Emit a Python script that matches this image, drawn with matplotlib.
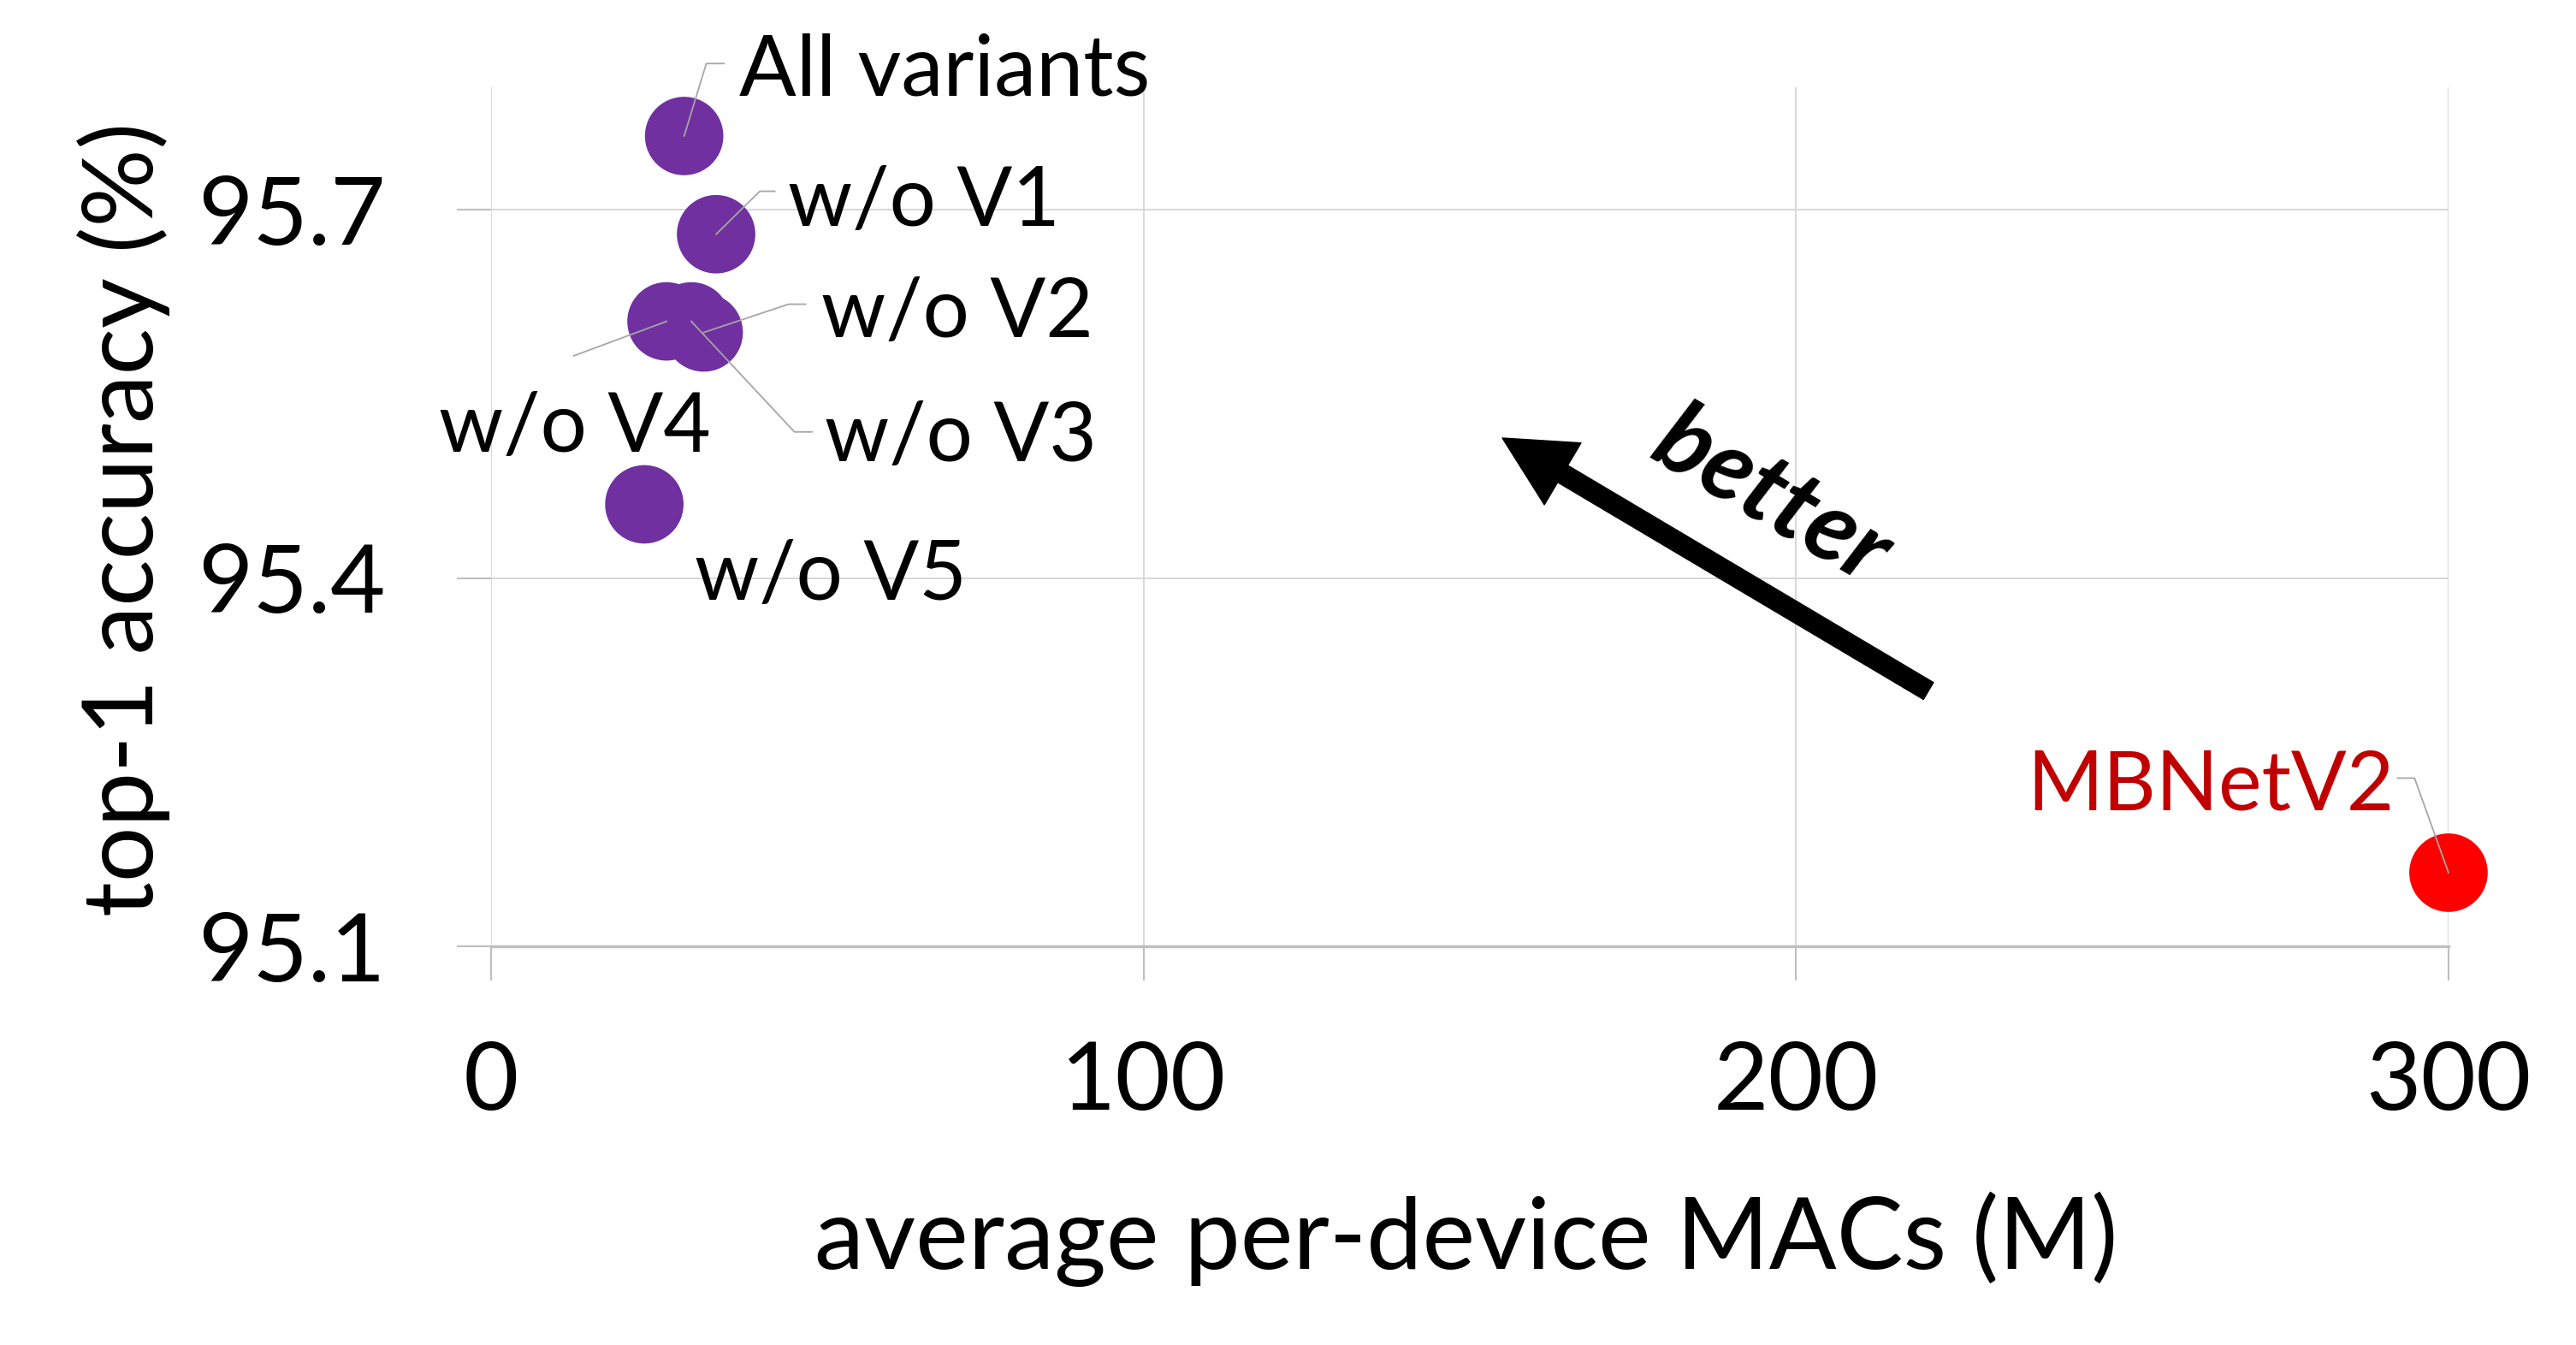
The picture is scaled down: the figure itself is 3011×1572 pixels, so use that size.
import matplotlib
matplotlib.use("Agg")
import matplotlib.pyplot as plt
from matplotlib.patches import FancyArrowPatch, ArrowStyle

plt.rcParams['font.family'] = ['Lato', 'DejaVu Sans']

# data
names = ['All variants', 'w/o V1', 'w/o V2', 'w/o V3', 'w/o V4', 'w/o V5']
macs = [29.6, 34.5, 32.6, 30.7, 26.9, 23.5]
acc = [95.76, 95.68, 95.600, 95.609, 95.609, 95.46]

base_name = 'MBNetV2'
base_macs = 300
base_acc = 95.16

xticks = [0, 100, 200, 300]
yticks = [95.1, 95.4, 95.7]

# label placement (text left x, baseline y) and leader elbows, in data units
label_pos = {
    'All variants': (38.0, 95.793),
    'w/o V1': (45.5, 95.687),
    'w/o V2': (50.6, 95.596),
    'w/o V3': (51.1, 95.495),
    'w/o V4': (-8.0, 95.503),
    'w/o V5': (31.2, 95.382),
}
leaders = {
    'All variants': [(33.0, 95.819), (35.7, 95.819)],
    'w/o V1': [(41.2, 95.715), (43.5, 95.715)],
    'w/o V2': [(45.6, 95.623), (48.2, 95.623)],
    'w/o V3': [(46.5, 95.519), (49.2, 95.519)],
    'w/o V4': [(12.7, 95.581)],
}

purple = '#7030a0'
grid_c = '#d9d9d9'
lead_c = '#a6a6a6'

fig = plt.figure(figsize=(30.11, 15.72), dpi=100)
ax = fig.add_axes([0.1906, 0.2964, 0.7599, 0.639])
ax.set_xlim(0, 300)
ax.set_ylim(95.1, 95.8)

for s in ['top', 'right', 'left']:
    ax.spines[s].set_visible(False)
ax.spines['bottom'].set_color('#bfbfbf')
ax.spines['bottom'].set_linewidth(2.4)
ax.spines['bottom'].set_zorder(1)

ax.set_xticks(xticks)
ax.set_yticks(yticks)
ax.set_xticklabels([str(t) for t in xticks])
ax.set_yticklabels(['%.1f' % t for t in yticks])
ax.tick_params(axis='both', direction='out', length=29, width=1.5, color='#bfbfbf',
               labelsize=80)
ax.tick_params(axis='x', pad=50)
ax.tick_params(axis='y', pad=60)
ax.grid(True, color=grid_c, lw=1.5, zorder=0)
ax.set_axisbelow(True)

ax.scatter(macs, acc, s=4356, color=purple, edgecolors='none', zorder=3,
           clip_on=False)
ax.scatter([base_macs], [base_acc], s=4356, color='#ff0000', edgecolors='none',
           zorder=3, clip_on=False)

for n, x, y in zip(names, macs, acc):
    lx, ly = label_pos[n]
    fs = 71 if n == 'All variants' else 69
    ax.text(lx, ly, n, fontsize=fs, ha='left', va='baseline', zorder=5)
    if n in leaders:
        pts = [(x, y)] + leaders[n]
        ax.plot([p[0] for p in pts], [p[1] for p in pts], color=lead_c, lw=1.3,
                zorder=4, clip_on=False)

ax.text(291.7, 95.211, base_name, fontsize=69, color='#c00000', ha='right',
        va='baseline', zorder=5)
mb = [(base_macs, base_acc), (294.8, 95.237), (292.2, 95.237)]
ax.plot([p[0] for p in mb], [p[1] for p in mb], color=lead_c, lw=1.3, zorder=4,
        clip_on=False)

# "better" arrow
arr = FancyArrowPatch((220.3, 95.308), (155.0, 95.514),
                      arrowstyle=ArrowStyle.Simple(head_length=0.82, head_width=0.84,
                                                   tail_width=0.23),
                      mutation_scale=72, color='black', shrinkA=0, shrinkB=0,
                      zorder=4)
ax.add_patch(arr)
ax.text(196.3, 95.466, 'better', fontsize=83, fontweight='bold', style='italic',
        rotation=-30.5, rotation_mode='anchor', ha='center', va='center')

fig.text(145 / 3011, 1 - 607 / 1572, 'top-1 accuracy (%)', fontsize=82,
         rotation=90, ha='center', va='center')
fig.text(1714 / 3011, 1 - 1483 / 1572, 'average per-device MACs (M)', fontsize=84,
         ha='center', va='baseline')

fig.savefig('out.png', dpi=100)
